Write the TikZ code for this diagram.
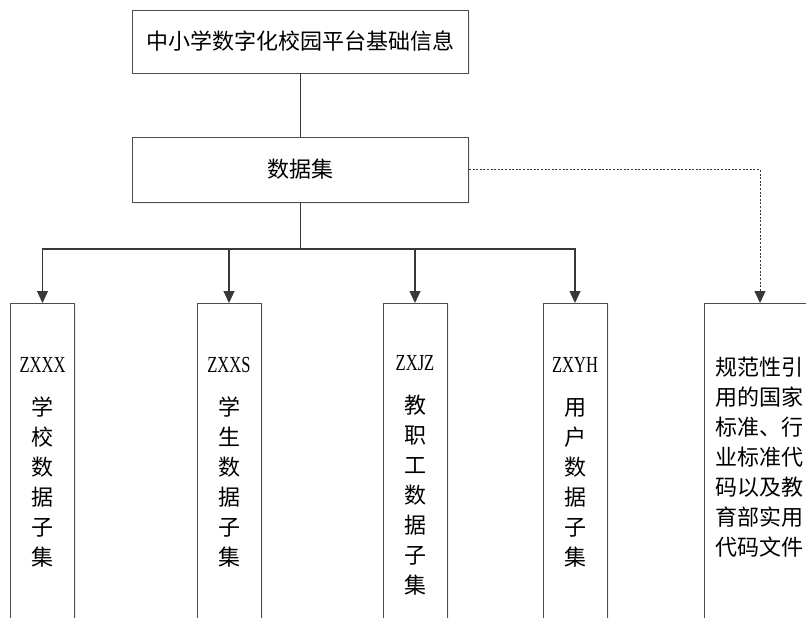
\documentclass[tikz,border=0pt]{standalone}
\usepackage{fontspec}
\setmainfont{Noto Sans CJK SC}
\newfontfamily\codefont[FakeStretch=0.72]{Liberation Serif}
\usetikzlibrary{arrows.meta,shadows,positioning}

\tikzset{
  box/.style={draw=black!70, line width=0.9pt, fill=white, inner sep=0pt,
    drop shadow={shadow xshift=1.5pt, shadow yshift=-1.5pt, opacity=.12}},
  subset/.style={box, anchor=north, minimum width=64pt, minimum height=340pt},
  vtext/.style={anchor=north, inner sep=0pt, align=center},
  link/.style={draw=black!78, line width=1.2pt},
  arrow/.style={link, -{Triangle[length=12pt,width=11pt]}},
  dotarrow/.style={draw=black!78, line width=1pt, dash pattern=on 2pt off 1.6pt,
    -{Triangle[length=12pt,width=11pt]}}
}
\newcommand{\subcode}[1]{{\codefont\fontsize{23pt}{30pt}\selectfont #1}}

\begin{document}
\begin{tikzpicture}
[x=1pt,y=-1pt,every node/.style={font=\fontsize{22pt}{30pt}\selectfont}]
   \clip (0,0) rectangle (806,618);

   \node[box, minimum width=336pt, minimum height=63pt] (info) at (300.5,41.5) {中小学数字化校园平台基础信息};
   \node[box, minimum width=336pt, minimum height=65pt] (dataset) at (300.5,169.5) {数据集};
   \coordinate (bus) at (300.5,249);

   \node[subset] (school) at (42.5,303) {};
   \node[subset] (student) at (229,303) {};
   \node[subset] (staff) at (415,303) {};
   \node[subset] (user) at (575,303) {};
   \node[subset, minimum width=112pt] (norm) at (760,303) {};

   \node[vtext] (school_t) at (42.5,357) {\subcode{ZXXX}\\[13pt]学\\校\\数\\据\\子\\集};
   \node[vtext] (student_t) at (229,357) {\subcode{ZXXS}\\[13pt]学\\生\\数\\据\\子\\集};
   \node[vtext] (staff_t) at (415,355) {\subcode{ZXJZ}\\[13pt]教\\职\\工\\数\\据\\子\\集};
   \node[vtext] (user_t) at (575,357) {\subcode{ZXYH}\\[13pt]用\\户\\数\\据\\子\\集};
   \node[vtext, anchor=north west, align=left] (norm_t) at (715,357) {规范性引\\用的国家\\标准、行\\业标准代\\码以及教\\育部实用\\代码文件};

   \draw[link] (info) -- (dataset);
   \draw[link] (dataset) -- (bus);
   \draw[arrow] (bus) -| (school);
   \draw[arrow] (bus) -| (student);
   \draw[arrow] (bus) -| (staff);
   \draw[arrow] (bus) -| (user);
   \draw[dotarrow] (dataset.east) -| (norm);

\end{tikzpicture}
\end{document}
